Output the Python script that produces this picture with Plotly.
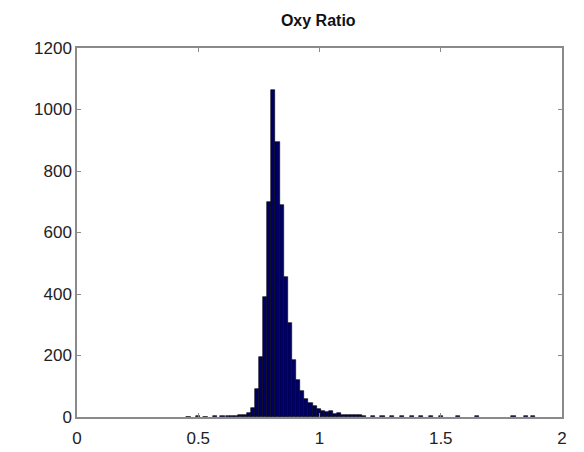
import plotly.graph_objects as go

# Histogram bin centers (width 0.017) and counts
bin_width = 0.017
left_tail_x = [0.46, 0.50, 0.53, 0.57, 0.60, 0.623, 0.640, 0.657, 0.674, 0.691]
left_tail_y = [1, 2, 1, 2, 2, 3, 3, 4, 6, 8]
core_x = [0.708, 0.725, 0.742, 0.759, 0.776, 0.793, 0.810, 0.827, 0.844, 0.861,
          0.878, 0.895, 0.912, 0.929, 0.946, 0.963, 0.980, 0.997, 1.014, 1.031,
          1.048, 1.065, 1.082, 1.099, 1.116, 1.133, 1.150, 1.167, 1.184]
core_y = [14, 30, 90, 195, 390, 700, 1065, 895, 690, 455,
          305, 185, 120, 85, 60, 45, 35, 25, 20, 15,
          18, 10, 12, 8, 7, 6, 5, 5, 4]
right_tail_x = [1.22, 1.26, 1.30, 1.34, 1.38, 1.42, 1.46, 1.50, 1.57, 1.65, 1.80, 1.85, 1.88]
right_tail_y = [3, 2, 3, 2, 2, 3, 2, 4, 2, 2, 2, 2, 2]

centers = left_tail_x + core_x + right_tail_x
counts = left_tail_y + core_y + right_tail_y

x_ticks = [0, 0.5, 1, 1.5, 2]
x_tick_labels = ["0", "0.5", "1", "1.5", "2"]
y_ticks = [0, 200, 400, 600, 800, 1000, 1200]
y_tick_labels = ["0", "200", "400", "600", "800", "1000", "1200"]

fig = go.Figure()
fig.add_trace(go.Bar(
    x=centers, y=counts, width=bin_width,
    marker=dict(color="rgb(0,0,100)", line=dict(color="black", width=0.6)),
    showlegend=False,
))

axis_common = dict(
    showline=True, linecolor="#8a8a8a", linewidth=1.5, mirror="ticks",
    ticks="inside", ticklen=4, tickcolor="#8a8a8a",
    showgrid=False, zeroline=False, automargin=False,
    tickfont=dict(family="Liberation Sans, Arial", size=17, color="#222222"),
)

fig.update_layout(
    width=584, height=452,
    margin=dict(l=77, r=22, t=48, b=35),
    paper_bgcolor="white", plot_bgcolor="white",
    bargap=0,
    title=dict(text="<b>Oxy Ratio</b>", x=0.545, xanchor="center", y=0.955, yanchor="middle",
               font=dict(family="Liberation Sans, Arial", size=16, color="#111111")),
    xaxis=dict(range=[0, 2], tickvals=x_ticks, ticktext=x_tick_labels,
               ticklabelstandoff=5, **axis_common),
    yaxis=dict(range=[0, 1200], tickvals=y_ticks, ticktext=y_tick_labels, **axis_common),
)

fig.write_html("out.html")
